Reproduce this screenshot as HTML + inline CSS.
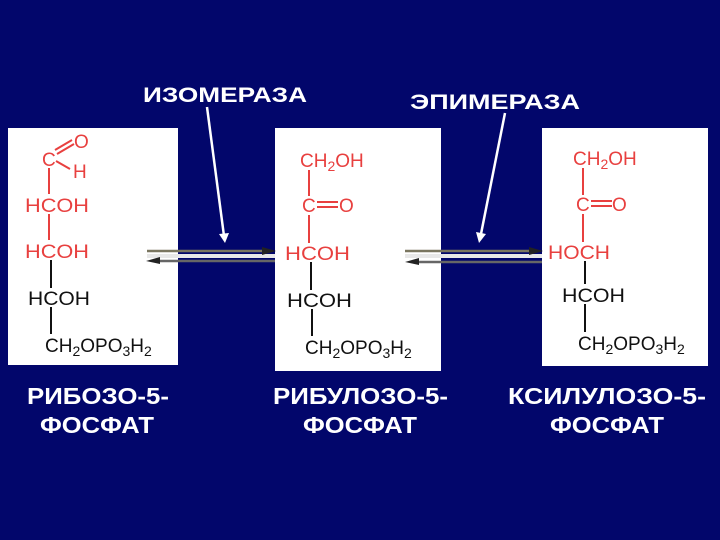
<!DOCTYPE html>
<html><head><meta charset="utf-8"><style>
html,body{margin:0;padding:0;background:#02066b;}
svg{display:block}
.t{font-family:"Liberation Sans",sans-serif;font-weight:bold;fill:#fff;font-size:21px}
.l{font-family:"Liberation Sans",sans-serif;font-weight:bold;fill:#fff;font-size:23px}
.r{font-family:"Liberation Sans",sans-serif;fill:#e8403f;font-size:19px}
.b{font-family:"Liberation Sans",sans-serif;fill:#111;font-size:19px}
</style></head><body>
<svg width="720" height="540" viewBox="0 0 720 540" xmlns="http://www.w3.org/2000/svg">
<rect width="720" height="540" fill="#02066b"/>
<rect x="8" y="128" width="170" height="237" fill="#fff"/>
<rect x="275" y="128" width="166" height="243" fill="#fff"/>
<rect x="542" y="128" width="166" height="238" fill="#fff"/>

<text class="t" x="143" y="102" textLength="164" lengthAdjust="spacingAndGlyphs">ИЗОМЕРАЗА</text>
<text class="t" x="410" y="109" textLength="170" lengthAdjust="spacingAndGlyphs">ЭПИМЕРАЗА</text>
<line x1="207" y1="107" x2="224" y2="236" stroke="#fff" stroke-width="2.5"/>
<polygon points="219,234 229,233 225,243" fill="#fff"/>
<line x1="505" y1="113" x2="481" y2="234" stroke="#fff" stroke-width="2.5"/>
<polygon points="476,232 486,234 479,243" fill="#fff"/>

<line x1="147" y1="256" x2="275" y2="256" stroke="#e8e8e8" stroke-width="4"/>
<line x1="147" y1="251" x2="268" y2="251" stroke="#7a7660" stroke-width="2.5"/>
<polygon points="262,247 276,251 262,255" fill="#222"/>
<line x1="155" y1="261" x2="275" y2="261" stroke="#666" stroke-width="2.5"/>
<polygon points="160,257 146,261 160,264" fill="#222"/>
<line x1="405" y1="256" x2="542" y2="256" stroke="#e8e8e8" stroke-width="4"/>
<line x1="405" y1="251" x2="535" y2="251" stroke="#7a7660" stroke-width="2.5"/>
<polygon points="529,247 543,251 529,255" fill="#222"/>
<line x1="413" y1="262" x2="542" y2="262" stroke="#666" stroke-width="2.5"/>
<polygon points="419,258 405,262 419,265" fill="#222"/>

<text class="r" x="42" y="166">C</text>
<line x1="55" y1="150" x2="72" y2="140" stroke="#e8403f" stroke-width="2"/>
<line x1="57" y1="154" x2="74" y2="144" stroke="#e8403f" stroke-width="2"/>
<text class="r" x="74" y="148">O</text>
<line x1="56" y1="161" x2="70" y2="169" stroke="#e8403f" stroke-width="2"/>
<text class="r" x="73" y="178">H</text>
<line x1="49" y1="168" x2="49" y2="194" stroke="#e8403f" stroke-width="2"/>
<text class="r" x="25" y="212" textLength="64" lengthAdjust="spacingAndGlyphs">HCOH</text>
<line x1="49" y1="214" x2="49" y2="240" stroke="#e8403f" stroke-width="2"/>
<text class="r" x="25" y="258" textLength="64" lengthAdjust="spacingAndGlyphs">HCOH</text>
<line x1="51" y1="260" x2="51" y2="288" stroke="#111" stroke-width="2"/>
<text class="b" x="28" y="305" textLength="62" lengthAdjust="spacingAndGlyphs">HCOH</text>
<line x1="51" y1="307" x2="51" y2="334" stroke="#111" stroke-width="2"/>
<text class="b" x="45" y="352">CH<tspan font-size="14" dy="4">2</tspan><tspan dy="-4">OPO</tspan><tspan font-size="14" dy="4">3</tspan><tspan dy="-4">H</tspan><tspan font-size="14" dy="4">2</tspan></text>

<text class="r" x="300" y="167">CH<tspan font-size="14" dy="4">2</tspan><tspan dy="-4">OH</tspan></text>
<line x1="309" y1="170" x2="309" y2="196" stroke="#e8403f" stroke-width="2"/>
<text class="r" x="302" y="212">C</text>
<line x1="317" y1="202" x2="338" y2="202" stroke="#e8403f" stroke-width="2"/>
<line x1="317" y1="207" x2="338" y2="207" stroke="#e8403f" stroke-width="2"/>
<text class="r" x="339" y="212">O</text>
<line x1="309" y1="215" x2="309" y2="243" stroke="#e8403f" stroke-width="2"/>
<text class="r" x="285" y="260" textLength="65" lengthAdjust="spacingAndGlyphs">HCOH</text>
<line x1="311" y1="262" x2="311" y2="290" stroke="#111" stroke-width="2"/>
<text class="b" x="287" y="307" textLength="65" lengthAdjust="spacingAndGlyphs">HCOH</text>
<line x1="312" y1="309" x2="312" y2="336" stroke="#111" stroke-width="2"/>
<text class="b" x="305" y="354">CH<tspan font-size="14" dy="4">2</tspan><tspan dy="-4">OPO</tspan><tspan font-size="14" dy="4">3</tspan><tspan dy="-4">H</tspan><tspan font-size="14" dy="4">2</tspan></text>

<text class="r" x="573" y="165">CH<tspan font-size="14" dy="4">2</tspan><tspan dy="-4">OH</tspan></text>
<line x1="583" y1="168" x2="583" y2="195" stroke="#e8403f" stroke-width="2"/>
<text class="r" x="576" y="211">C</text>
<line x1="591" y1="201" x2="612" y2="201" stroke="#e8403f" stroke-width="2"/>
<line x1="591" y1="206" x2="612" y2="206" stroke="#e8403f" stroke-width="2"/>
<text class="r" x="612" y="211">O</text>
<line x1="583" y1="214" x2="583" y2="242" stroke="#e8403f" stroke-width="2"/>
<text class="r" x="548" y="259" textLength="62" lengthAdjust="spacingAndGlyphs">HOCH</text>
<line x1="585" y1="261" x2="585" y2="284" stroke="#111" stroke-width="2"/>
<text class="b" x="562" y="302" textLength="63" lengthAdjust="spacingAndGlyphs">HCOH</text>
<line x1="585" y1="304" x2="585" y2="332" stroke="#111" stroke-width="2"/>
<text class="b" x="578" y="350">CH<tspan font-size="14" dy="4">2</tspan><tspan dy="-4">OPO</tspan><tspan font-size="14" dy="4">3</tspan><tspan dy="-4">H</tspan><tspan font-size="14" dy="4">2</tspan></text>

<text class="l" x="27" y="404" textLength="142" lengthAdjust="spacingAndGlyphs">РИБОЗО-5-</text>
<text class="l" x="40" y="433" textLength="114" lengthAdjust="spacingAndGlyphs">ФОСФАТ</text>
<text class="l" x="273" y="404" textLength="175" lengthAdjust="spacingAndGlyphs">РИБУЛОЗО-5-</text>
<text class="l" x="303" y="433" textLength="114" lengthAdjust="spacingAndGlyphs">ФОСФАТ</text>
<text class="l" x="508" y="404" textLength="198" lengthAdjust="spacingAndGlyphs">КСИЛУЛОЗО-5-</text>
<text class="l" x="550" y="433" textLength="114" lengthAdjust="spacingAndGlyphs">ФОСФАТ</text>
</svg>
</body></html>
